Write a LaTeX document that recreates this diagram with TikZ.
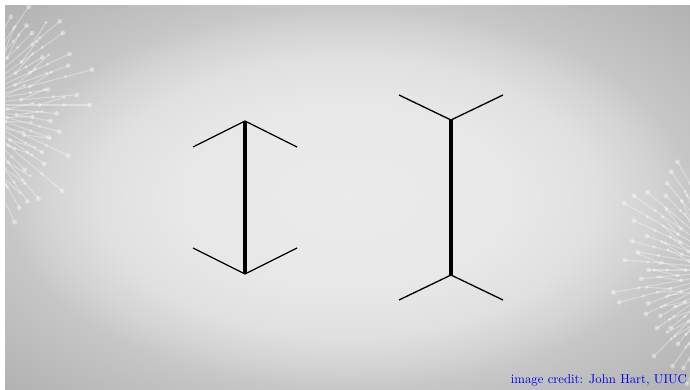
\documentclass[tikz,border=0pt]{standalone}
\usepackage{tikz}
\usetikzlibrary{positioning,calc}
\definecolor{CreditBlue}{HTML}{0000F5}
\pgfdeclareradialshading{slideglow}{\pgfpoint{0bp}{0bp}}{%
  color(0bp)=(white!92!black); color(12bp)=(white!91!black);
  color(18bp)=(white!88!black); color(22bp)=(white!83!black);
  color(25bp)=(white!78!black); color(35bp)=(white!70!black);
  color(50bp)=(white!70!black)}

\begin{document}
\begin{tikzpicture}[x=0.02cm, y=-0.02cm,
  shaft/.style={line width=2pt, black},
  fin/.style={line width=0.75pt, black},
  twig/.style={white, opacity=0.35, line width=0.6pt},
  bud/.style={white, opacity=0.4}
]
\useasboundingbox (0,0) rectangle (690,389);
\fill[white] (0,0) rectangle (690,389);
\shade[shading=slideglow] (5,5) rectangle (690,389);

% corner sprays
\begin{scope}
\clip (5,5) rectangle (690,389);
\pgfmathsetseed{11}
\foreach \a in {-80,-75,...,75} {
  \pgfmathsetmacro{\len}{85+55*rnd}
  \pgfmathsetmacro{\mid}{0.45+0.3*rnd}
  \draw[twig] (-40,105) -- ++(\a:\len);
  \fill[bud] ($(-40,105)+(\a:\len)$) circle (2.4);
  \fill[bud] ($(-40,105)+(\a:\len*0.8)$) circle (1.8);
  \fill[bud] ($(-40,105)+(\a:\len*\mid)$) circle (2);
  \draw[twig] ($(-40,105)+(\a:\len*\mid)$) -- ++(\a-18:26) coordinate (tip);
  \fill[bud] (tip) circle (1.8);
}
\foreach \a in {105,110,...,255} {
  \pgfmathsetmacro{\len}{90+45*rnd}
  \pgfmathsetmacro{\mid}{0.45+0.3*rnd}
  \draw[twig] (740,270) -- ++(\a:\len);
  \fill[bud] ($(740,270)+(\a:\len)$) circle (2.4);
  \fill[bud] ($(740,270)+(\a:\len*0.8)$) circle (1.8);
  \fill[bud] ($(740,270)+(\a:\len*\mid)$) circle (2);
  \draw[twig] ($(740,270)+(\a:\len*\mid)$) -- ++(\a+18:24) coordinate (tip);
  \fill[bud] (tip) circle (1.8);
}
\end{scope}

% arrows-in figure
\coordinate (inTop) at (245,121);
\coordinate (inBot) at (245,274);
\coordinate (inTL) at (193,147);
\coordinate (inTR) at (297,147);
\coordinate (inBL) at (193,248);
\coordinate (inBR) at (297,248);
\draw[fin] (inTL) -- (inTop) -- (inTR);
\draw[fin] (inBL) -- (inBot) -- (inBR);
\draw[shaft] (inTop) -- (inBot);

% arrows-out figure
\coordinate (outTop) at (451,120);
\coordinate (outBot) at (451,275);
\coordinate (outTL) at (399,95);
\coordinate (outTR) at (503,95);
\coordinate (outBL) at (399,300);
\coordinate (outBR) at (503,300);
\draw[fin] (outTL) -- (outTop) -- (outTR);
\draw[fin] (outBL) -- (outBot) -- (outBR);
\draw[shaft] (outTop) -- (outBot);

\node[anchor=south east, inner sep=1pt, text=CreditBlue] (credit) at (689,388)
  {\resizebox{3.52cm}{!}{image credit: John Hart, UIUC}};
\end{tikzpicture}
\end{document}
